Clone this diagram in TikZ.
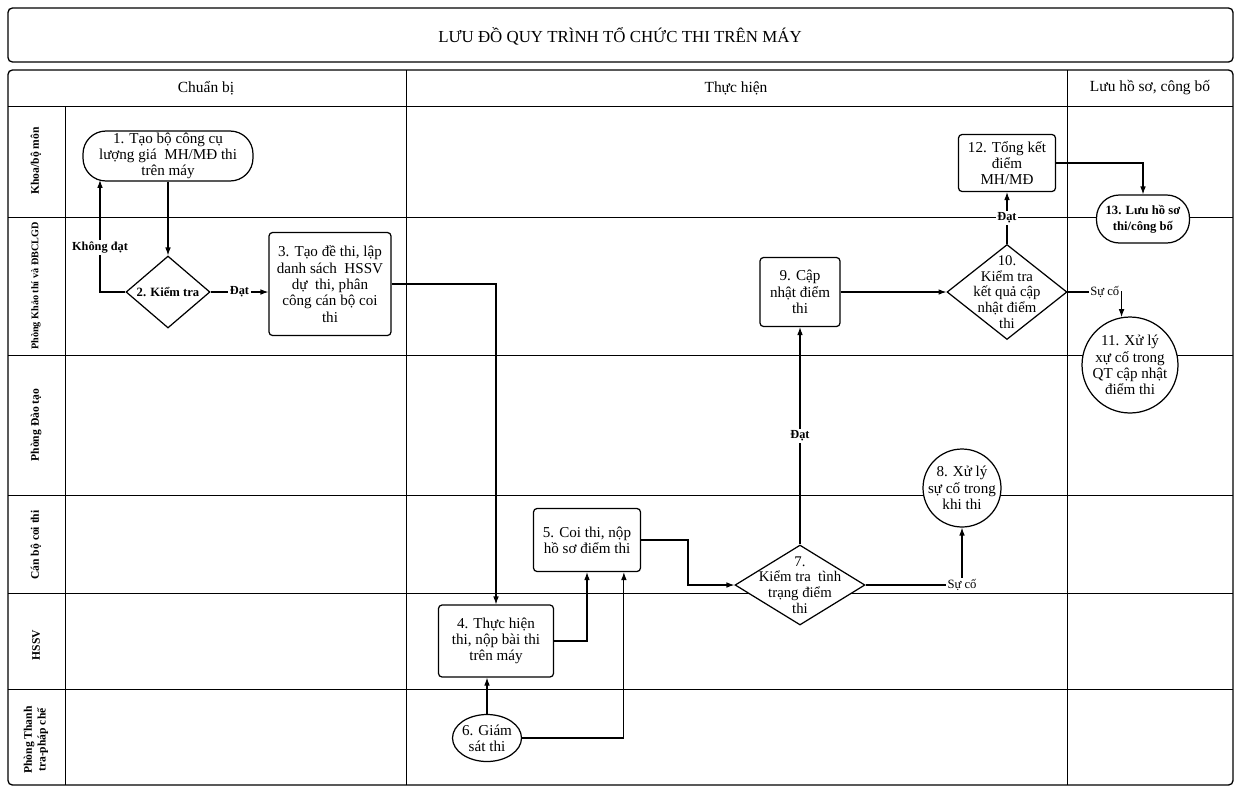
\documentclass[tikz,border=0pt]{standalone}
\usepackage{fontspec}
\setmainfont{Liberation Serif}
\usetikzlibrary{shapes.geometric,arrows.meta}
\begin{document}
\begin{tikzpicture}[x=0.02cm,y=-0.02cm,
  grid/.style={line width=0.55pt},
  frame/.style={line width=0.75pt, rounded corners=2.5pt},
  nt/.style={font=\fontsize{8.6}{9.3}\selectfont, align=center},
  dt/.style={font=\fontsize{8.4}{8.9}\selectfont, align=center},
  box/.style={nt, draw, line width=0.7pt, rounded corners=2pt, fill=white, inner sep=1pt},
  stad/.style={nt, draw, line width=0.7pt, rounded corners=13pt, fill=white, inner sep=1pt},
  dia/.style={draw, diamond, line width=0.7pt, fill=white, inner sep=0pt},
  circ/.style={draw, circle, line width=0.7pt, fill=white, inner sep=0pt},
  ell/.style={draw, ellipse, line width=0.7pt, fill=white, inner sep=0pt},
  bt/.style={font=\bfseries\fontsize{7.2}{9}\selectfont, align=center},
  lbl/.style={font=\bfseries\fontsize{7}{8}\selectfont, fill=white, inner sep=1pt},
  slbl/.style={font=\fontsize{7.2}{8}\selectfont, fill=white, inner sep=1pt},
  arr/.style={line width=0.6pt, -{Latex[length=4.5pt,width=3.2pt]}},
  lane/.style={font=\bfseries\fontsize{6.6}{7.8}\selectfont, rotate=90, align=center},
  head/.style={font=\fontsize{8.8}{10}\selectfont},
]
\useasboundingbox (0,0) rectangle (1241,789);
\fill[white] (0,0) rectangle (1241,789);

% title
\draw[frame] (8,8) rectangle (1233,62);
\node[font=\fontsize{9.6}{11}\selectfont] (title) at (620,36) {LƯU ĐỒ QUY TRÌNH TỔ CHỨC THI TRÊN MÁY};

% table
\draw[frame] (8,70) rectangle (1233,785);
\foreach \yy in {106,217,355,495,593,689} \draw[grid] (8,\yy) -- (1233,\yy);
\draw[grid] (65,106) -- (65,785);
\draw[grid] (406,70) -- (406,785);
\draw[grid] (1067,70) -- (1067,785);

% headers
\node[head] (h1) at (206,88) {Chuẩn bị};
\node[head] (h2) at (736,88) {Thực hiện};
\node[head] (h3) at (1150,88) {Lưu hồ sơ, công bố};

% lanes
\node[lane] (l1) at (36,161) {Khoa/bộ môn};
\node[lane, font=\bfseries\fontsize{5.8}{7}\selectfont] (l2) at (36,286) {Phòng Khảo thí và ĐBCLGD};
\node[lane] (l3) at (36,425) {Phòng Đào tạo};
\node[lane] (l4) at (36,545) {Cán bộ coi thi};
\node[lane] (l5) at (36,645) {HSSV};
\node[lane] (l6) at (36,740) {Phòng Thanh\\tra-pháp chế};

% nodes
\node[stad, minimum width=3.4cm, minimum height=0.96cm] (n1) at (168,156) {1. Tạo bộ công cụ\\lượng giá~ MH/MĐ thi\\trên máy};
\node[dia, minimum width=1.68cm, minimum height=1.44cm, label={[bt]center:2. Kiểm tra}] (n2) at (168,292) {};
\node[box, minimum width=2.44cm, minimum height=2.06cm] (n3) at (330,284) {3. Tạo đề thi, lập\\danh sách~ HSSV\\dự~ thi, phân\\công cán bộ coi\\thi};
\node[box, minimum width=2.3cm, minimum height=1.44cm] (n4) at (496,641) {4. Thực hiện\\thi, nộp bài thi\\trên máy};
\node[box, minimum width=2.14cm, minimum height=1.26cm] (n5) at (587,540) {5. Coi thi, nộp\\hồ sơ điểm thi};
\node[ell, minimum width=1.38cm, minimum height=0.94cm, label={[nt]center:6. Giám\\sát thi}] (n6) at (487,738) {};
\node[dia, minimum width=2.6cm, minimum height=1.6cm, label={[dt]center:7.\\Kiểm tra~ tình\\trạng điểm\\thi}] (n7) at (800,585) {};
\node[circ, minimum size=1.56cm, label={[nt]center:8. Xử lý\\sự cố trong\\khi thi}] (n8) at (962,488) {};
\node[box, minimum width=1.6cm, minimum height=1.38cm] (n9) at (800,292) {9. Cập\\nhật điểm\\thi};
\node[dia, minimum width=2.4cm, minimum height=1.9cm, label={[dt]center:10.\\Kiểm tra\\kết quả cập\\nhật điểm\\thi}] (n10) at (1007,292) {};
\node[circ, minimum size=1.92cm, label={[nt]center:11. Xử lý\\xự cố trong\\QT cập nhật\\điểm thi}] (n11) at (1130,365) {};
\node[box, minimum width=1.94cm, minimum height=1.14cm] (n12) at (1007,163) {12. Tổng kết\\điểm\\MH/MĐ};
\node[stad, bt, minimum width=1.86cm, minimum height=0.96cm] (n13) at (1143,219) {13. Lưu hồ sơ\\thi/công bố};

% connectors
\coordinate (kd) at (100,180);
\coordinate (c57) at (688,540);
\draw[arr] (n1.south) -- (n2.north);
\draw[arr] (n2.west) -| node[lbl, pos=0.7] {Không đạt} (kd);
\draw[arr] (n2.east) -- node[lbl] {Đạt} (n2.east -| n3.west);
\draw[arr] (n3.east) -| (n4.north);
\draw[arr] (n4.east) -| (n5.south);
\draw[arr] (n6.north) -- (n6.north |- n4.south);
\draw[arr] (n6.east) -| ([xshift=21pt]n5.south);
\draw[arr] (n5.east) -- (c57) |- (n7.west);
\draw[arr] (n7.north) -- node[lbl] {Đạt} (n9.south);
\draw[arr] (n7.east) -| node[slbl, pos=0.5] {Sự cố} (n8.south);
\draw[arr] (n9.east) -- (n10.west);
\draw[arr] (n10.north) -- node[lbl] {Đạt} (n12.south);
\draw[arr] (n10.east) -| node[slbl, pos=0.5, anchor=east] {Sự cố} (n11.100);
\draw[arr] (n12.east) -| (n13.north);
\end{tikzpicture}
\end{document}
